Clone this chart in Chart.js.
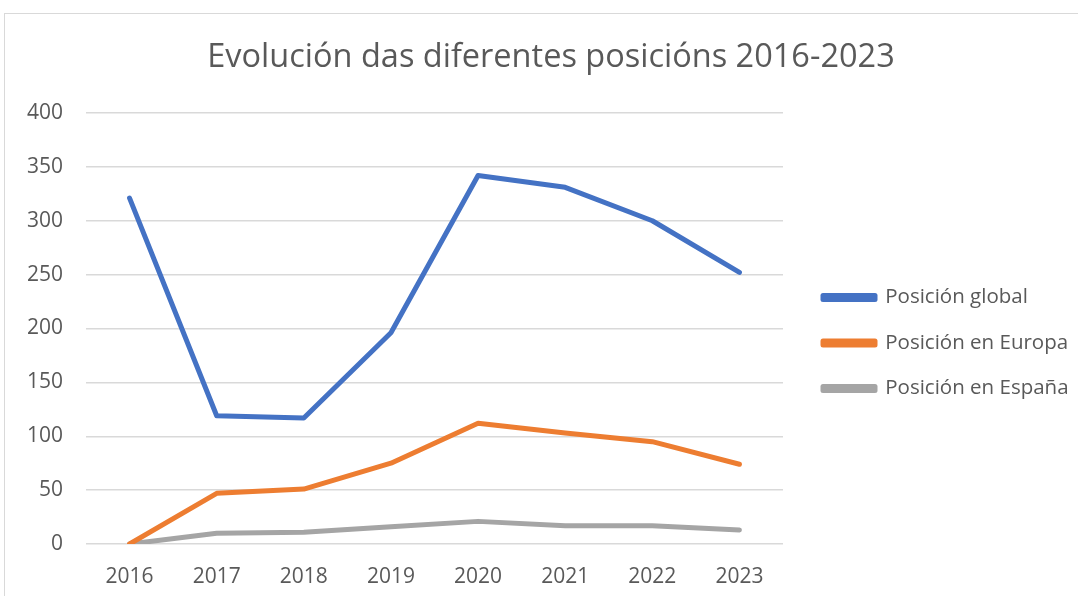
<!DOCTYPE html>
<html>
<head>
<meta charset="utf-8">
<script src="https://cdn.jsdelivr.net/npm/chart.js@4.4.0/dist/chart.umd.min.js"></script>
<style>
  html, body { margin: 0; padding: 0; background: #fff; overflow: hidden; }
  #frame {
    position: absolute; left: 4px; top: 13px;
    width: 1092px; height: 600px;
    border: 1px solid #d9d9d9; box-sizing: border-box;
  }
  #wrap { position: absolute; left: 0; top: 0; width: 1092px; height: 600px; }
</style>
</head>
<body>
<div id="frame">
  <div id="wrap"><canvas id="lineChart"></canvas></div>
</div>
<script>
// chart data
const years = ['2016', '2017', '2018', '2019', '2020', '2021', '2022', '2023'];
const globalPos = [321, 119, 117, 196, 342, 331, 300, 252];
const europePos = [0, 47, 51, 75, 112, 103, 95, 74];
const spainPos = [0, 10, 11, 16, 21, 17, 17, 13];
const seriesNames = ['Posición global', 'Posición en Europa', 'Posición en España'];

Chart.defaults.color = '#595959';
Chart.defaults.font.family = '"Open Sans", sans-serif';

const blue = '#4472c4';
const orange = '#ed7d31';
const grey = '#a5a5a5';

const mkSet = (label, data, color) => ({
  label: label,
  data: data,
  borderColor: color,
  backgroundColor: color,
  borderWidth: 5,
  pointRadius: 0,
  tension: 0,
  borderCapStyle: 'round',
  borderJoinStyle: 'round',
  yAxisID: 'y'
});

// keep the legend column wide enough for the longest label
const legendWidth = {
  id: 'legendWidth',
  afterInit(chart) {
    const lg = chart.legend;
    const fit = lg.fit.bind(lg);
    lg.fit = function () {
      fit();
      this.width = 284;
    };
  }
};

const ctx = document.getElementById('lineChart').getContext('2d');
new Chart(ctx, {
  type: 'line',
  data: {
    labels: years,
    datasets: [
      mkSet(seriesNames[0], globalPos, blue),
      mkSet(seriesNames[1], europePos, orange),
      mkSet(seriesNames[2], spainPos, grey)
    ]
  },
  plugins: [legendWidth],
  options: {
    responsive: true,
    maintainAspectRatio: false,
    animation: false,
    layout: {
      padding: { left: 15, right: 15, top: 20, bottom: 10 }
    },
    plugins: {
      title: {
        display: true,
        text: 'Evolución das diferentes posicións 2016-2023',
        font: { size: 32.5, weight: 'normal' },
        color: '#595959',
        padding: { top: 4, bottom: 36 }
      },
      legend: {
        position: 'right',
        align: 'center',
        title: { display: true, text: ' ', padding: 12, font: { size: 20 } },
        labels: {
          boxWidth: 52,
          boxHeight: 4,
          padding: 25,
          font: { size: 20.5 },
          color: '#595959'
        }
      },
      tooltip: { enabled: false }
    },
    scales: {
      x: {
        offset: true,
        grid: { display: false, drawTicks: false },
        border: { display: false },
        ticks: { font: { size: 21 }, color: '#595959', padding: 20 },
        afterFit: (s) => { s.height = 60; }
      },
      y: {
        min: 0,
        max: 400,
        grid: { color: '#d9d9d9', lineWidth: 1.5, drawTicks: false },
        border: { display: false },
        ticks: { stepSize: 50, font: { size: 21 }, color: '#595959', padding: 23 },
        afterFit: (s) => { s.width = 66; }
      },
      gap: {
        position: 'right',
        grid: { display: false, drawTicks: false },
        border: { display: false },
        ticks: { display: false },
        afterFit: (s) => { s.width = 15; }
      }
    }
  }
});
</script>
</body>
</html>
